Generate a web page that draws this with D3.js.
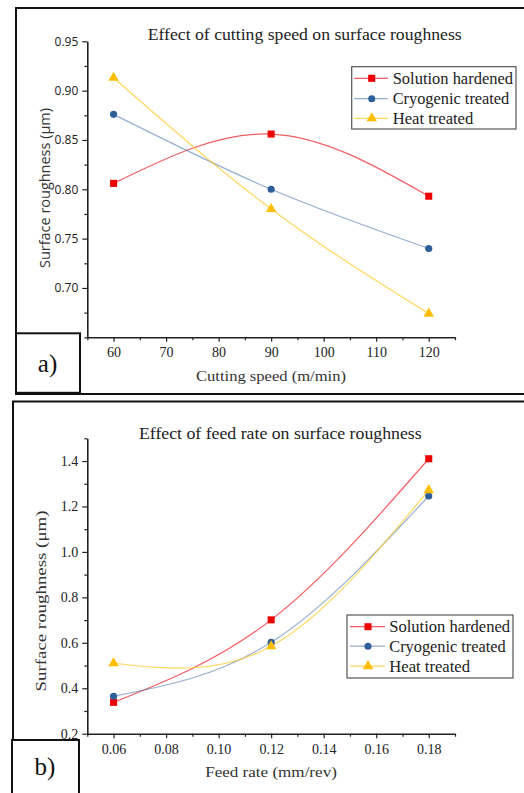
<!DOCTYPE html>
<html><head><meta charset="utf-8">
<script src="https://cdn.jsdelivr.net/npm/d3@7"></script>
<style>
html,body{margin:0;padding:0;background:#fff;}
svg{display:block;}
</style></head>
<body>
<script>
// ---- Data ----
const seriesNames = ["Solution hardened", "Cryogenic treated", "Heat treated"];

const speedX = [60, 90, 120];
const speedSolution = [0.806, 0.856, 0.793];
const speedCryogenic = [0.876, 0.800, 0.740];
const speedHeat = [0.913, 0.780, 0.674];
const speedTicks = [60, 70, 80, 90, 100, 110, 120];
const speedYTicks = [0.70, 0.75, 0.80, 0.85, 0.90, 0.95];

const feedX = [0.06, 0.12, 0.18];
const feedSolution = [0.338, 0.701, 1.410];
const feedCryogenic = [0.365, 0.602, 1.246];
const feedHeat = [0.510, 0.585, 1.272];
const feedTicks = [0.06, 0.08, 0.10, 0.12, 0.14, 0.16, 0.18];
const feedYTicks = [0.2, 0.4, 0.6, 0.8, 1.0, 1.2, 1.4];

// ---- Styling ----
const lineColors = ["rgba(240,40,45,0.75)", "rgba(60,110,170,0.55)", "rgba(255,200,40,0.75)"];
const markColors = ["#ee0000", "#2e5e98", "#ffbf00"];
const markShapes = [d3.symbolSquare, d3.symbolCircle, d3.symbolTriangle];
const markSizes = [50, 40, 48];
const SERIF = "'Liberation Serif', 'DejaVu Serif', serif";
const SANS = "'Open Sans', 'Noto Sans', sans-serif";

const svg = d3.select("body").append("svg").attr("width", 524).attr("height", 793);

// Frames
svg.append("path").attr("d", "M527,8 H16 V394 H527").attr("fill", "none").attr("stroke", "#111").attr("stroke-width", 2);
svg.append("path").attr("d", "M527,401.5 H13 V800").attr("fill", "none").attr("stroke", "#111").attr("stroke-width", 2);

const panels = [
  {
    xs: speedX, ys: [speedSolution, speedCryogenic, speedHeat],
    xDomain: [55, 125], yDomain: [0.65, 0.95],
    yRange: [337.3, 41.3], xRange: [87.3, 455],
    xTicks: speedTicks, xMinorStep: 5, xFmt: d3.format("d"),
    yTicks: speedYTicks, yMinorStep: 0.025, yFmt: d3.format(".2f"),
    yTickFont: SANS, yTickSize: 12,
    title: "Effect of cutting speed on surface roughness", titleY: 40, titleX: 304.7, titleLen: 314,
    xLabel: "Cutting speed (m/min)", xLabelY: 381, xLabelLen: 150,
    yLabel: "Surface roughness (\u03bcm)", yLabelX: 50, yLabelY: 188, yLabelLen: 160, yLabelFont: SANS, yLabelSize: 14,
    legend: {x: 351.7, y: 66.7, w: 164.3, h: 62.3, rows: [78.3, 98.7, 118.3], lx0: 354, lx1: 388, mx: 371.7, tx: 392.7, lens: [120.3, 116.6, 80.6]},
    box: {x: 16, y: 333.3, w: 64, h: 59.5, label: "a)", ty: 372, tx: 47.5},
    xTickLabelY: 357
  },
  {
    xs: feedX, ys: [feedSolution, feedCryogenic, feedHeat],
    xDomain: [0.05, 0.19], yDomain: [0.2, 1.5],
    yRange: [733.7, 438.3], xRange: [87.3, 455],
    xTicks: feedTicks, xMinorStep: 0.01, xFmt: d3.format(".2f"),
    yTicks: feedYTicks, yMinorStep: 0.1, yFmt: d3.format(".1f"),
    yTickFont: SERIF, yTickSize: 14,
    title: "Effect of feed rate on surface roughness", titleY: 438.5, titleX: 280.3, titleLen: 282.7,
    xLabel: "Feed rate (mm/rev)", xLabelY: 777, xLabelLen: 131.7,
    yLabel: "Surface roughness (\u03bcm)", yLabelX: 46, yLabelY: 601, yLabelLen: 181, yLabelFont: SERIF, yLabelSize: 15,
    legend: {x: 347, y: 615, w: 166, h: 63, rows: [626.7, 646.2, 666.2], lx0: 350, lx1: 385, mx: 368, tx: 389.3, lens: [120.7, 116.4, 80.7]},
    box: {x: 12, y: 740, w: 67, h: 70, label: "b)", ty: 775, tx: 45},
    xTickLabelY: 754
  }
];

function minorValues(domain, step) {
  const out = [];
  const n = Math.round((domain[1] - domain[0]) / step);
  for (let i = 0; i <= n; i++) out.push(+(domain[0] + i * step).toFixed(6));
  return out;
}

panels.forEach(p => {
  const x = d3.scaleLinear().domain(p.xDomain).range(p.xRange);
  const y = d3.scaleLinear().domain(p.yDomain).range(p.yRange);
  const g = svg.append("g");
  const x0 = p.xRange[0], yB = p.yRange[0];

  // minor ticks
  const xMinor = minorValues(p.xDomain, p.xMinorStep).filter(v => !p.xTicks.some(t => Math.abs(t - v) < 1e-6));
  const yMinor = minorValues(p.yDomain, p.yMinorStep).filter(v => !p.yTicks.some(t => Math.abs(t - v) < 1e-6));
  g.append("g").attr("transform", `translate(0,${yB})`)
    .call(d3.axisBottom(x).tickValues(xMinor).tickSize(3).tickFormat(""))
    .call(a => a.select(".domain").remove());
  g.append("g").attr("transform", `translate(${x0},0)`)
    .call(d3.axisLeft(y).tickValues(yMinor).tickSize(3).tickFormat(""))
    .call(a => a.select(".domain").remove());

  // major axes
  const xa = g.append("g").attr("transform", `translate(0,${yB})`)
    .call(d3.axisBottom(x).tickValues(p.xTicks).tickSize(4.5).tickSizeOuter(0).tickFormat(p.xFmt));
  xa.selectAll("text").attr("font-family", SERIF).attr("font-size", 14).attr("fill", "#222")
    .attr("dy", null).attr("y", p.xTickLabelY - yB);
  const ya = g.append("g").attr("transform", `translate(${x0},0)`)
    .call(d3.axisLeft(y).tickValues(p.yTicks).tickSize(5).tickSizeOuter(0).tickFormat(p.yFmt).tickPadding(4));
  ya.selectAll("text").attr("font-family", p.yTickFont).attr("font-size", p.yTickSize).attr("fill", "#222");
  g.selectAll(".domain").attr("stroke", "#222").attr("stroke-width", 1.6);
  g.selectAll(".tick line").attr("stroke", "#222").attr("stroke-width", 1.2);

  // lines
  p.ys.forEach((vals, i) => {
    const pts = p.xs.map((xv, j) => [xv, vals[j]]);
    g.append("path").datum(pts)
      .attr("d", d3.line().x(d => x(d[0])).y(d => y(d[1])).curve(d3.curveNatural))
      .attr("fill", "none").attr("stroke", lineColors[i]).attr("stroke-width", 1.2);
  });
  p.ys.forEach((vals, i) => {
    const pts = p.xs.map((xv, j) => [xv, vals[j]]);
    g.selectAll(null).data(pts).enter().append("path")
      .attr("d", d3.symbol().type(markShapes[i]).size(markSizes[i]))
      .attr("transform", d => `translate(${x(d[0])},${y(d[1])})`)
      .attr("fill", markColors[i]);
  });

  // title
  g.append("text").attr("x", p.titleX).attr("y", p.titleY).attr("text-anchor", "middle")
    .attr("font-family", SERIF).attr("font-size", 16).attr("fill", "#222")
    .attr("textLength", p.titleLen).attr("lengthAdjust", "spacingAndGlyphs").text(p.title);
  // x label
  g.append("text").attr("x", 271).attr("y", p.xLabelY).attr("text-anchor", "middle")
    .attr("font-family", SERIF).attr("font-size", 15).attr("fill", "#333")
    .attr("textLength", p.xLabelLen).attr("lengthAdjust", "spacingAndGlyphs").text(p.xLabel);
  // y label
  g.append("text").attr("transform", `translate(${p.yLabelX},${p.yLabelY}) rotate(-90)`).attr("text-anchor", "middle")
    .attr("font-family", p.yLabelFont).attr("font-size", p.yLabelSize).attr("fill", "#333")
    .attr("textLength", p.yLabelLen).attr("lengthAdjust", "spacingAndGlyphs").text(p.yLabel);

  // legend
  const L = p.legend;
  g.append("rect").attr("x", L.x).attr("y", L.y).attr("width", L.w).attr("height", L.h)
    .attr("fill", "#fff").attr("stroke", "#555").attr("stroke-width", 1.2);
  seriesNames.forEach((name, i) => {
    const ry = L.rows[i];
    g.append("line").attr("x1", L.lx0).attr("x2", L.lx1).attr("y1", ry).attr("y2", ry)
      .attr("stroke", lineColors[i]).attr("stroke-width", 1.3);
    g.append("path").attr("d", d3.symbol().type(markShapes[i]).size(markSizes[i]))
      .attr("transform", `translate(${L.mx},${ry})`).attr("fill", markColors[i]);
    g.append("text").attr("x", L.tx).attr("y", ry + 5.5)
      .attr("font-family", SERIF).attr("font-size", 16).attr("fill", "#222")
      .attr("textLength", L.lens[i]).attr("lengthAdjust", "spacingAndGlyphs").text(name);
  });

  // panel label box
  const B = p.box;
  g.append("rect").attr("x", B.x).attr("y", B.y).attr("width", B.w).attr("height", B.h)
    .attr("fill", "#fff").attr("stroke", "#111").attr("stroke-width", 2);
  g.append("text").attr("x", B.tx).attr("y", B.ty).attr("text-anchor", "middle")
    .attr("font-family", SERIF).attr("font-size", 25).attr("fill", "#111").text(B.label);
});
</script>
</body></html>
